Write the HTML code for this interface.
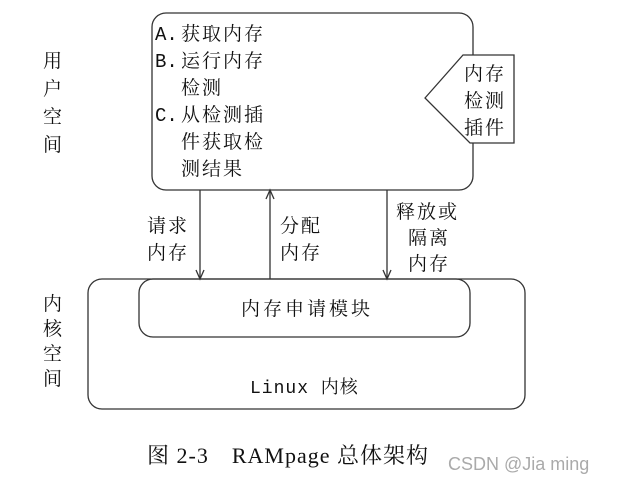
<!DOCTYPE html>
<html><head><meta charset="utf-8"><style>
html,body{margin:0;padding:0;background:#fff;}
svg{display:block;}
text{font-family:"Liberation Serif","Noto Serif CJK SC","Noto Sans CJK SC",serif;fill:#111;}
.m{font-family:"Liberation Mono","Noto Serif CJK SC","Noto Sans CJK SC",monospace;}
</style></head><body>
<svg width="617" height="485" viewBox="0 0 617 485" xmlns="http://www.w3.org/2000/svg">
<g fill="none" stroke="#333" stroke-width="1.3">
<rect x="152" y="13" width="321" height="177" rx="14"/>
<polygon points="425,98 463,55 514,55 514,143 470,143" fill="#fff"/>
<rect x="88" y="279" width="437" height="130" rx="14"/>
<rect x="139" y="279" width="331" height="58" rx="14"/>
<line x1="200" y1="190" x2="200" y2="279"/>
<polyline points="196,270 200,279 204,270"/>
<line x1="270" y1="279" x2="270" y2="190"/>
<polyline points="266,199 270,190 274,199"/>
<line x1="387" y1="190" x2="387" y2="279"/>
<polyline points="383,270 387,279 391,270"/>
</g>
<g font-size="19" letter-spacing="2">
<text x="43" y="67">用</text><text x="43" y="95">户</text><text x="43" y="123">空</text><text x="43" y="151">间</text>
<text x="43" y="310">内</text><text x="43" y="335">核</text><text x="43" y="360">空</text><text x="43" y="385">间</text>
<text x="155" y="40"><tspan class="m" letter-spacing="0">A.</tspan><tspan x="181">获取内存</tspan></text>
<text x="155" y="67"><tspan class="m" letter-spacing="0">B.</tspan><tspan x="181">运行内存</tspan></text>
<text x="181" y="94">检测</text>
<text x="155" y="121"><tspan class="m" letter-spacing="0">C.</tspan><tspan x="181">从检测插</tspan></text>
<text x="181" y="148">件获取检</text>
<text x="181" y="175">测结果</text>
<text x="464" y="80">内存</text>
<text x="464" y="107">检测</text>
<text x="464" y="134">插件</text>
<text x="147" y="232">请求</text>
<text x="147" y="259">内存</text>
<text x="280" y="232">分配</text>
<text x="280" y="259">内存</text>
<text x="396" y="218">释放或</text>
<text x="408" y="244">隔离</text>
<text x="408" y="270">内存</text>
<text x="241" y="315" letter-spacing="3">内存申请模块</text>
<text x="250" y="393" class="m" font-size="18" letter-spacing="1">Linux 内核</text>
<text x="147" y="463" font-size="22" letter-spacing="1">图 2-3　RAMpage 总体架构</text>
</g>
<text x="448" y="470" font-size="18" style="font-family:'Liberation Sans',sans-serif;fill:#aaa">CSDN @Jia ming</text>
</svg>
</body></html>
